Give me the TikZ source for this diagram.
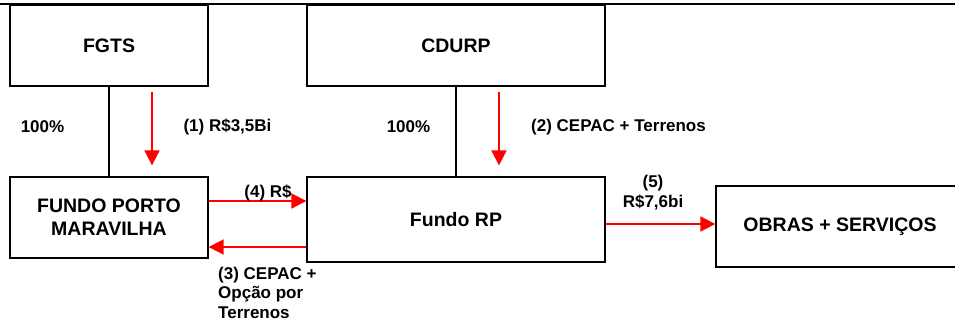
\documentclass[tikz,border=0pt]{standalone}
\usepackage{fontspec}
\setmainfont{Liberation Sans}
\usetikzlibrary{arrows.meta}
\tikzset{
  box/.style={draw,line width=1.3pt,minimum height=81pt,inner sep=0pt,align=center,
    font=\fontsize{19.5}{23}\selectfont\bfseries},
  lbl/.style={inner sep=0pt,align=center,font=\fontsize{17}{19.5}\selectfont\bfseries},
  flow/.style={draw=red,line width=1.8pt,-{Triangle[length=15pt,width=15pt]}}
}
\begin{document}
\begin{tikzpicture}[x=1pt,y=-1pt]
  \clip (0,0) rectangle (955,324);
  \draw[line width=2.5pt] (0,4) -- (955,4);
  % boxes
  \node[box,minimum width=198pt] (fgts) at (109,45.5) {FGTS};
  \node[box,minimum width=298pt] (cdurp) at (456,45.5) {CDURP};
  \node[box,minimum width=198pt] (fpm) at (109,217.5) {FUNDO PORTO\\MARAVILHA};
  \node[box,minimum width=298pt,minimum height=85pt] (fundorp) at (456,219.5) {Fundo RP};
  \node[box,minimum width=248pt] (obras) at (840,226.5) {OBRAS + SERVI\c{C}OS};
  % ownership
  \draw[line width=1.3pt] (fgts.south) -- (fpm.north);
  \draw[line width=1.3pt] (cdurp.south) -- (fundorp.north);
  \node[lbl] (pctfgts) at (42.5,127) {100\%};
  \node[lbl] (pctcdurp) at (408.5,127) {100\%};
  % flows
  \draw[flow] ([shift={(43,5)}]fgts.south) -- ([shift={(43,-11)}]fpm.north);
  \draw[flow] ([shift={(43,5)}]cdurp.south) -- ([shift={(43,-11)}]fundorp.north);
  \draw[flow] ([yshift=16.5pt]fpm.east) -- ([yshift=16.5pt]fpm.east -| fundorp.west);
  \draw[flow] ([yshift=-29.5pt]fpm.east -| fundorp.west) -- ([yshift=-29.5pt]fpm.east);
  \draw[flow] ([yshift=2.5pt]obras.west -| fundorp.east) -- ([yshift=2.5pt]obras.west);
  \node[lbl] (one) at (227.5,127) {(1) R\$3,5Bi};
  \node[lbl] (two) at (618.5,127) {(2) CEPAC + Terrenos};
  \node[lbl] (four) at (268,193) {(4) R\$};
  \node[lbl,align=left,anchor=north west] (three) at (218,266.5) {(3) CEPAC +\\Op\c{c}\~ao por\\Terrenos};
  \node[lbl] (five) at (653,192.5) {(5)\\R\$7,6bi};
\end{tikzpicture}
\end{document}
